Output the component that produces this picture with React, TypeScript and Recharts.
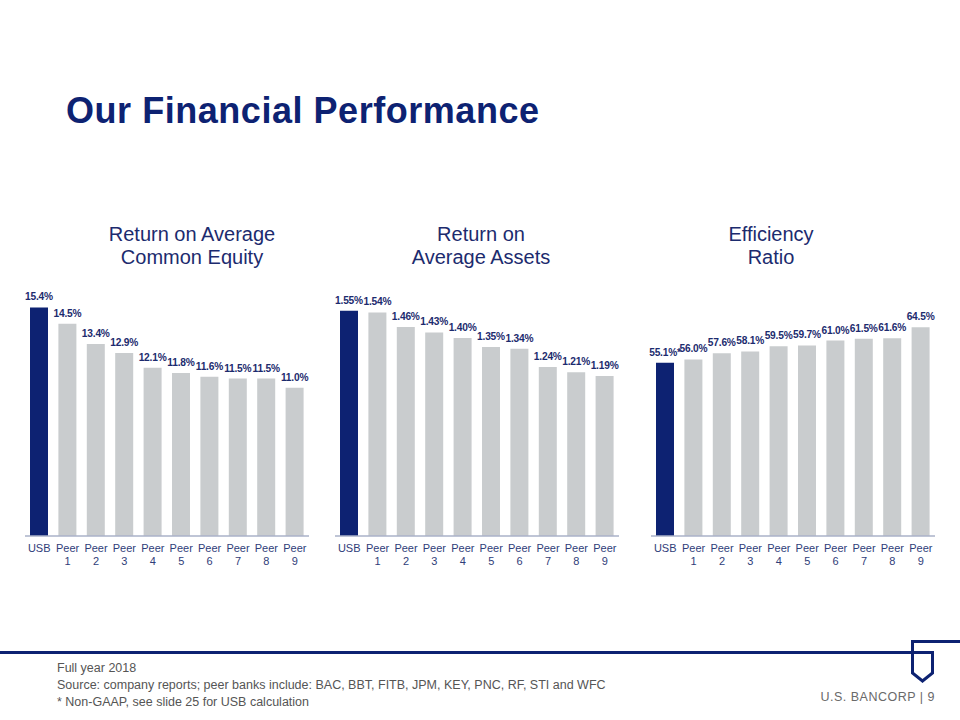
import React from 'react';
import { BarChart, Bar, XAxis, YAxis, Cell, LabelList } from 'recharts';

const categories = ['USB', 'Peer 1', 'Peer 2', 'Peer 3', 'Peer 4', 'Peer 5', 'Peer 6', 'Peer 7', 'Peer 8', 'Peer 9'];
const roaceValues = [15.4, 14.5, 13.4, 12.9, 12.1, 11.8, 11.6, 11.5, 11.5, 11.0];
const roaaValues = [1.55, 1.54, 1.46, 1.43, 1.4, 1.35, 1.34, 1.24, 1.21, 1.19];
const efficiencyValues = [55.1, 56.0, 57.6, 58.1, 59.5, 59.7, 61.0, 61.5, 61.6, 64.5];
const efficiencyNotes = ['*', '', '', '', '', '', '', '', '', ''];
const noNotes = ['', '', '', '', '', '', '', '', '', ''];

const NAVY = '#0d2272';
const GRAY = '#c9ccce';
const TEXT_NAVY = '#1c2b6e';
const FONT = '"Liberation Sans", Arial, Helvetica, sans-serif';
const SIDE = 14;

const buildRows = (values: number[], decimals: number, notes: string[]) =>
  categories.map((name, i) => ({
    name,
    value: values[i],
    label: `${values[i].toFixed(decimals)}%${notes[i]}`,
  }));

const TwoLineTick = (props: any) => {
  const { x, y, payload } = props;
  const parts = String(payload.value).split(' ');
  return (
    <text x={x} textAnchor="middle" fontSize={11} fill="#2f3d79" fontFamily={FONT}>
      <tspan x={x} y={y + 16}>{parts[0]}</tspan>
      {parts[1] ? <tspan x={x} y={y + 28.5}>{parts[1]}</tspan> : null}
    </text>
  );
};

type MiniProps = {
  values: number[];
  decimals: number;
  notes: string[];
  domain: [number, number];
  left: number;
};

const MiniChart = ({ values, decimals, notes, domain, left }: MiniProps) => {
  const rows = buildRows(values, decimals, notes);
  return (
    <div style={{ position: 'absolute', left: left - SIDE, top: 250 }}>
      <BarChart width={284 + 2 * SIDE} height={326} data={rows} margin={{ top: 30, right: SIDE, left: SIDE, bottom: 0 }}>
        <XAxis
          dataKey="name"
          height={40}
          tickLine={false}
          tickSize={0}
          tickMargin={0}
          interval={0}
          axisLine={{ stroke: '#aab2c8', strokeWidth: 1.5 }}
          tick={<TwoLineTick />}
        />
        <YAxis hide domain={domain} allowDataOverflow type="number" />
        <Bar dataKey="value" barSize={18} isAnimationActive={false}>
          {rows.map((r, i) => (
            <Cell key={r.name} fill={i === 0 ? NAVY : GRAY} />
          ))}
          <LabelList
            dataKey="label"
            position="top"
            offset={7}
            style={{ fontSize: 10.2, fontWeight: 'bold', fill: TEXT_NAVY, fontFamily: FONT, letterSpacing: -0.2 }}
          />
        </Bar>
      </BarChart>
    </div>
  );
};

export default function App() {
  return (
    <div
      style={{
        position: 'absolute',
        left: 0,
        top: 0,
        width: 960,
        height: 720,
        background: '#ffffff',
        fontFamily: FONT,
        overflow: 'hidden',
      }}
    >
      <svg width={960} height={720} style={{ position: 'absolute', left: 0, top: 0 }}>
        <text x={66} y={122.5} fontSize={36} fontWeight="bold" fill={NAVY} fontFamily={FONT} textLength={473} lengthAdjust="spacing">
          Our Financial Performance
        </text>
        <g fontSize={20} fill={TEXT_NAVY} fontFamily={FONT} textAnchor="middle">
          <text x={192} y={241}>Return on Average</text>
          <text x={192} y={264}>Common Equity</text>
          <text x={481} y={241}>Return on</text>
          <text x={481} y={264}>Average Assets</text>
          <text x={771} y={241}>Efficiency</text>
          <text x={771} y={264}>Ratio</text>
        </g>
        <rect x={0} y={651} width={934} height={3} fill={NAVY} />
        <rect x={911} y={640} width={49} height={3} fill={NAVY} />
        <path
          d="M912.5 640 L912.5 673 L922.5 681 L932.5 673 L932.5 652"
          fill="none"
          stroke={NAVY}
          strokeWidth={3}
        />
        <g fontSize={12.5} fill="#555555" fontFamily={FONT}>
          <text x={57} y={672}>Full year 2018</text>
          <text x={57} y={689}>Source: company reports; peer banks include: BAC, BBT, FITB, JPM, KEY, PNC, RF, STI and WFC</text>
          <text x={57} y={706}>* Non-GAAP, see slide 25 for USB calculation</text>
        </g>
        <text x={935} y={701} fontSize={12.5} fill="#6a6a6a" fontFamily={FONT} textAnchor="end" letterSpacing={0.5}>
          U.S. BANCORP | 9
        </text>
      </svg>
      <MiniChart values={roaceValues} decimals={1} notes={noNotes} domain={[2.88, 16.9]} left={25} />
      <MiniChart values={roaaValues} decimals={2} notes={noNotes} domain={[0.308, 1.719]} left={335} />
      <MiniChart values={efficiencyValues} decimals={1} notes={efficiencyNotes} domain={[9.15, 77.06]} left={651} />
    </div>
  );
}
